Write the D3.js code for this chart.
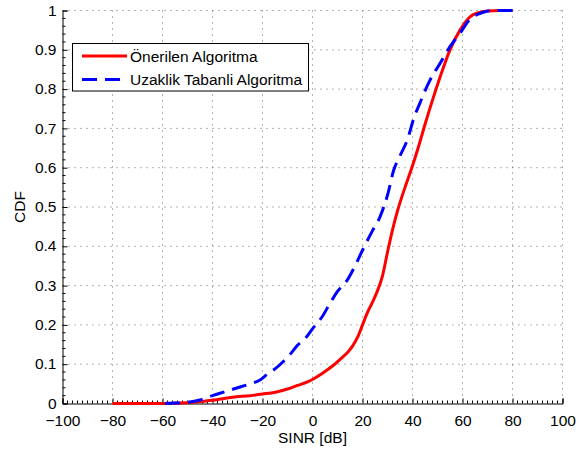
<!DOCTYPE html>
<html>
<head>
<meta charset="utf-8">
<script src="https://cdn.jsdelivr.net/npm/d3@7"></script>
<style>
  body { margin: 0; background: #fff; }
  svg { display: block; font-family: "Liberation Sans", Arial, Helvetica, sans-serif; }
</style>
</head>
<body>
<svg id="chart"></svg>
<script>
// x ticks / y ticks
const xTicks = [-100, -80, -60, -40, -20, 0, 20, 40, 60, 80, 100];
const yTicks = [0, 0.1, 0.2, 0.3, 0.4, 0.5, 0.6, 0.7, 0.8, 0.9, 1];

// Önerilen Algoritma (red, solid)
const sinrRed = [-80, -60, -50, -45, -40, -32, -25, -20, -14, -10, -6, -2, 0.5, 4, 8.5, 12, 14, 16, 18, 20, 22, 24, 26, 28, 30, 32, 34, 37, 40, 42, 45, 48, 51, 55, 59, 63, 66, 70, 75, 80];
const cdfRed = [0, 0, 0.002, 0.005, 0.008, 0.016, 0.02, 0.024, 0.03, 0.037, 0.046, 0.055, 0.063, 0.077, 0.098, 0.118, 0.13, 0.146, 0.168, 0.2, 0.232, 0.258, 0.287, 0.325, 0.385, 0.442, 0.49, 0.55, 0.605, 0.645, 0.71, 0.772, 0.83, 0.9, 0.95, 0.984, 0.994, 0.999, 1, 1];

// Uzaklik Tabanli Algoritma (blue, dashed)
const sinrBlue = [-59, -55, -50, -45, -40, -35, -30, -25, -21, -18, -15, -12, -9, -6, -3, 0, 4, 7, 10, 14, 17, 20, 24, 27, 30, 32.5, 35, 38, 40.5, 43, 47, 51, 55, 59, 63, 66, 69, 72, 76, 80];
const cdfBlue = [0, 0.001, 0.003, 0.009, 0.02, 0.03, 0.04, 0.05, 0.06, 0.075, 0.088, 0.105, 0.125, 0.148, 0.165, 0.19, 0.222, 0.255, 0.285, 0.315, 0.35, 0.39, 0.44, 0.475, 0.53, 0.594, 0.63, 0.672, 0.725, 0.765, 0.823, 0.865, 0.908, 0.942, 0.978, 0.99, 0.997, 1, 1, 1];

const legendLabels = ["Önerilen Algoritma", "Uzaklik Tabanli Algoritma"];

const W = 588, H = 452;
const margin = { top: 10.5, left: 62.5, right: 25.5, bottom: 48.5 };
const width = W - margin.left - margin.right;
const height = H - margin.top - margin.bottom;
const fontSize = 15.5;

const svg = d3.select("#chart").attr("width", W).attr("height", H);
const g = svg.append("g").attr("transform", `translate(${margin.left},${margin.top})`);

const x = d3.scaleLinear().domain([-100, 100]).range([0, width]);
const y = d3.scaleLinear().domain([0, 1]).range([height, 0]);

// dotted grid
g.append("g").selectAll("line")
  .data(xTicks.slice(1))
  .enter().append("line")
  .attr("x1", d => x(d)).attr("x2", d => x(d))
  .attr("y1", 0).attr("y2", height)
  .attr("stroke", "#666").attr("stroke-width", 1)
  .attr("stroke-dasharray", "1,5");

g.append("g").selectAll("line")
  .data(yTicks.slice(1))
  .enter().append("line")
  .attr("y1", d => y(d)).attr("y2", d => y(d))
  .attr("x1", 0).attr("x2", width)
  .attr("stroke", "#666").attr("stroke-width", 1)
  .attr("stroke-dasharray", "1,5");

// axes (ticks inward like matlab)
const xAxis = g.append("g")
  .attr("transform", `translate(0,${height})`)
  .call(d3.axisBottom(x).tickValues(xTicks).tickSize(-5).tickPadding(11)
    .tickFormat(d => d < 0 ? "\u2212" + Math.abs(d) : d));
const yAxis = g.append("g")
  .call(d3.axisLeft(y).tickValues(yTicks).tickSize(-5).tickPadding(6)
    .tickFormat(d => d3.format("")(d)));

[xAxis, yAxis].forEach(a => {
  a.select(".domain").attr("stroke", "#000");
  a.selectAll(".tick line").attr("stroke", "#000");
  a.selectAll("text").attr("font-size", fontSize).attr("fill", "#000")
    .attr("font-family", "'Liberation Sans', Arial, sans-serif");
});
yAxis.selectAll(".tick text").attr("dy", "0.3em");

// minor ticks
const xMinor = d3.range(-100, 100.1, 2).filter(v => v % 20 !== 0);
g.append("g").selectAll("line").data(xMinor).enter().append("line")
  .attr("x1", d => x(d)).attr("x2", d => x(d))
  .attr("y1", height).attr("y2", height - 3)
  .attr("stroke", "#000");
const yMinor = d3.range(0, 50).map(i => i / 50).filter((v, i) => i % 5 !== 0);
g.append("g").selectAll("line").data(yMinor).enter().append("line")
  .attr("y1", d => y(d)).attr("y2", d => y(d))
  .attr("x1", 0).attr("x2", 3)
  .attr("stroke", "#000");

// curves
const line = d3.line().x(d => x(d[0])).y(d => y(d[1])).curve(d3.curveMonotoneX);

g.append("path")
  .datum(sinrRed.map((v, i) => [v, cdfRed[i]]))
  .attr("d", line)
  .attr("fill", "none")
  .attr("stroke", "#ff0000")
  .attr("stroke-width", 3);

g.append("path")
  .datum(sinrBlue.map((v, i) => [v, cdfBlue[i]]))
  .attr("d", line)
  .attr("fill", "none")
  .attr("stroke", "#0000ff")
  .attr("stroke-width", 3)
  .attr("stroke-dasharray", "15,8");

// axis labels
svg.append("text")
  .attr("x", margin.left + width / 2)
  .attr("y", 443)
  .attr("text-anchor", "middle")
  .attr("font-size", fontSize)
  .text("SINR [dB]");

svg.append("text")
  .attr("transform", `translate(25,${margin.top + height / 2}) rotate(-90)`)
  .attr("text-anchor", "middle")
  .attr("font-size", fontSize)
  .text("CDF");

// legend
const legend = svg.append("g").attr("transform", "translate(72.5,43.5)");
legend.append("rect")
  .attr("width", 236).attr("height", 47.5)
  .attr("fill", "#fff").attr("stroke", "#000").attr("stroke-width", 1);

const legendStyles = [
  { color: "#ff0000", dash: null },
  { color: "#0000ff", dash: "15,8" }
];
legendLabels.forEach((label, i) => {
  const ly = 12.5 + i * 23.5;
  legend.append("line")
    .attr("x1", 9.5).attr("x2", 54.5)
    .attr("y1", ly).attr("y2", ly)
    .attr("stroke", legendStyles[i].color)
    .attr("stroke-width", 3)
    .attr("stroke-dasharray", legendStyles[i].dash);
  legend.append("text")
    .attr("x", 57.5).attr("y", ly + 5.5)
    .attr("font-size", fontSize)
    .text(label);
});
</script>
</body>
</html>
